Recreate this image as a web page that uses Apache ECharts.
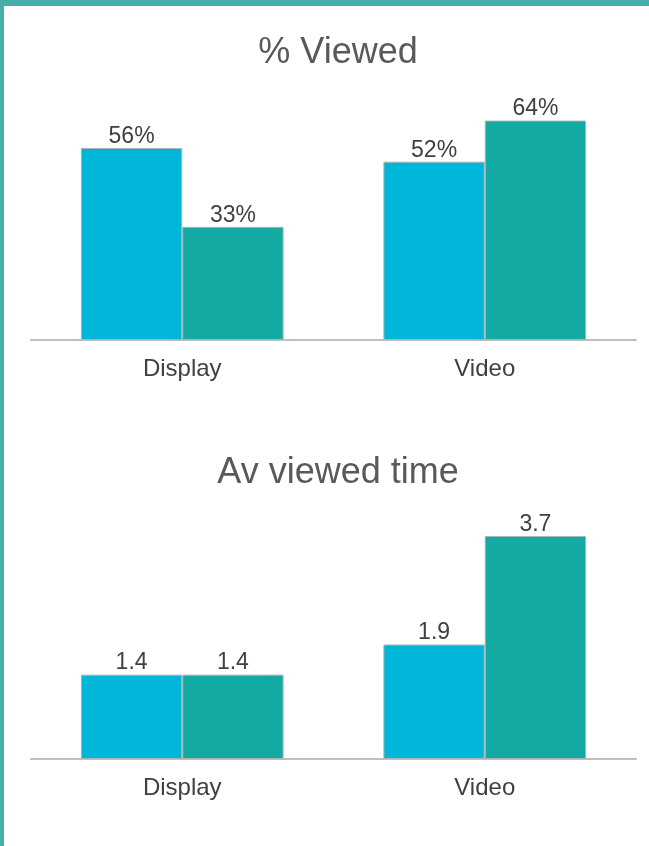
<!DOCTYPE html>
<html>
<head>
<meta charset="utf-8">
<script src="https://cdn.jsdelivr.net/npm/echarts@6/dist/echarts.min.js"></script>
<style>
  html, body { margin: 0; padding: 0; background: #ffffff; }
  #chart { width: 649px; height: 846px; }
</style>
</head>
<body>
<div id="chart"></div>
<script>
// Categories shared by both panels
const categories = ['Display', 'Video'];

// Panel 1: % viewed
const viewedA = [56, 52];
const viewedB = [33, 64];

// Panel 2: average viewed time
const timeA = [1.4, 1.9];
const timeB = [1.4, 3.7];

const titles = ['% Viewed', 'Av viewed time'];

const BLUE = '#00b7da';
const TEAL = '#12aaa2';
const FRAME = '#48afa8';
const FONT = '"Liberation Sans", Arial, sans-serif';

const chart = echarts.init(document.getElementById('chart'), null, { renderer: 'canvas' });

function barSeries(data, color, idx, fmt) {
  return {
    type: 'bar',
    xAxisIndex: idx,
    yAxisIndex: idx,
    data: data,
    barGap: '0%',
    barCategoryGap: '33%',
    itemStyle: { color: color, borderColor: '#a8b4b4', borderWidth: 1 },
    label: {
      show: true,
      position: 'top',
      distance: 0,
      formatter: fmt,
      fontFamily: FONT,
      fontSize: 23,
      color: '#404040'
    },
    silent: true,
    animation: false
  };
}

function xAxis(idx) {
  return {
    type: 'category',
    gridIndex: idx,
    data: categories,
    axisLine: { show: true, lineStyle: { color: '#bfbfbf', width: 2 } },
    axisTick: { show: false },
    axisLabel: { fontFamily: FONT, fontSize: 24, color: '#404040', margin: 17 }
  };
}

function yAxis(idx, max) {
  return {
    type: 'value',
    gridIndex: idx,
    min: 0,
    max: max,
    show: false,
    splitLine: { show: false }
  };
}

chart.setOption({
  backgroundColor: '#ffffff',
  animation: false,
  title: [
    {
      text: titles[0], left: 333, top: 30, textAlign: 'center',
      textStyle: { fontFamily: FONT, fontSize: 36, fontWeight: 'normal', color: '#595959' }
    },
    {
      text: titles[1], left: 333, top: 450, textAlign: 'center',
      textStyle: { fontFamily: FONT, fontSize: 36, fontWeight: 'normal', color: '#595959' }
    }
  ],
  grid: [
    { left: 31, width: 605, top: 100, height: 240 },
    { left: 31, width: 605, top: 518, height: 241 }
  ],
  xAxis: [xAxis(0), xAxis(1)],
  yAxis: [yAxis(0, 70), yAxis(1, 4)],
  series: [
    barSeries(viewedA, BLUE, 0, '{c}%'),
    barSeries(viewedB, TEAL, 0, '{c}%'),
    barSeries(timeA, BLUE, 1, '{c}'),
    barSeries(timeB, TEAL, 1, '{c}')
  ],
  graphic: [
    { type: 'rect', left: 0, top: 0, shape: { width: 649, height: 6 }, style: { fill: FRAME }, silent: true },
    { type: 'rect', left: 0, top: 0, shape: { width: 4, height: 846 }, style: { fill: FRAME }, silent: true }
  ]
});
</script>
</body>
</html>
